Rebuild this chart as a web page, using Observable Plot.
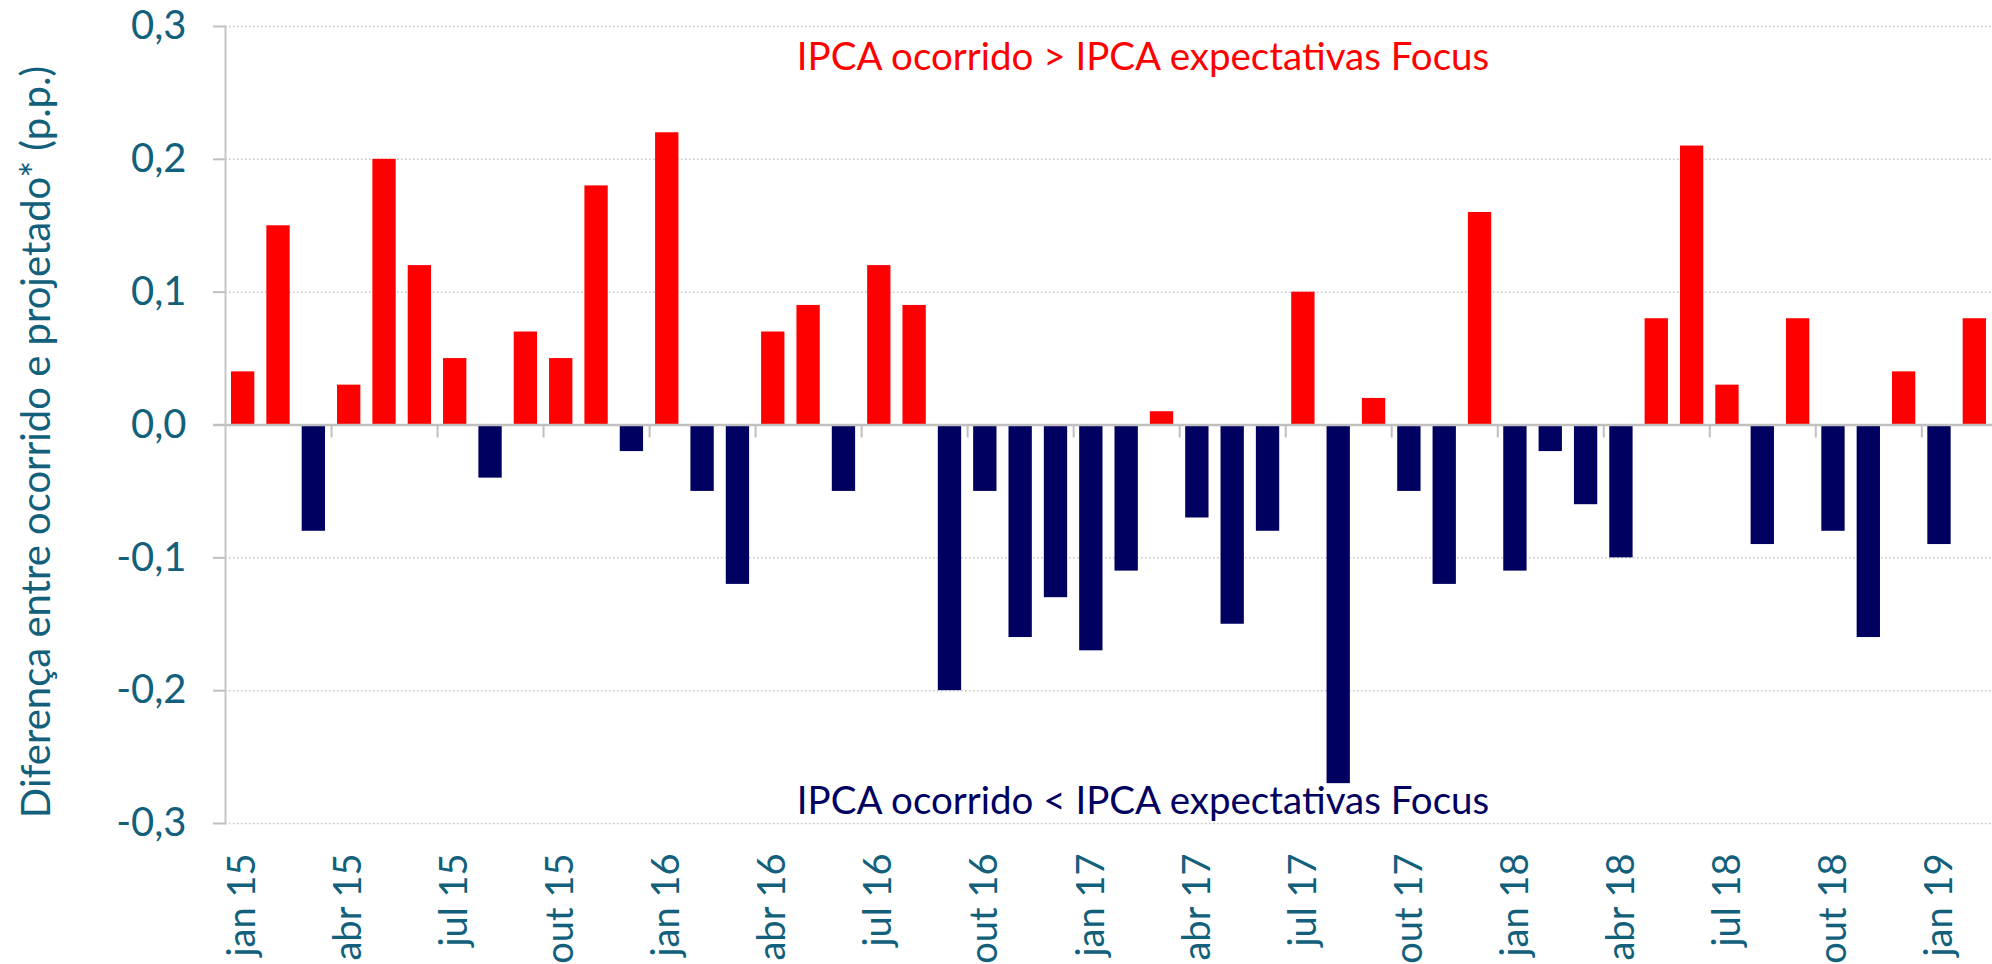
<!DOCTYPE html>
<html><head><meta charset="utf-8">
<script src="https://cdn.jsdelivr.net/npm/d3@7"></script>
<script src="https://cdn.jsdelivr.net/npm/@observablehq/plot@0.6"></script>
<style>
body{margin:0;background:#fff;}
#chart svg{display:block;}
</style>
</head><body><div id="chart"></div>
<script>
const periods = [
  "jan 15","fev 15","mar 15","abr 15","mai 15","jun 15","jul 15","ago 15","set 15","out 15","nov 15","dez 15",
  "jan 16","fev 16","mar 16","abr 16","mai 16","jun 16","jul 16","ago 16","set 16","out 16","nov 16","dez 16",
  "jan 17","fev 17","mar 17","abr 17","mai 17","jun 17","jul 17","ago 17","set 17","out 17","nov 17","dez 17",
  "jan 18","fev 18","mar 18","abr 18","mai 18","jun 18","jul 18","ago 18","set 18","out 18","nov 18","dez 18",
  "jan 19","fev 19"
];
const values = [
  0.04, 0.15, -0.08, 0.03, 0.20, 0.12, 0.05, -0.04, 0.07, 0.05, 0.18, -0.02,
  0.22, -0.05, -0.12, 0.07, 0.09, -0.05, 0.12, 0.09, -0.20, -0.05, -0.16, -0.13,
  -0.17, -0.11, 0.01, -0.07, -0.15, -0.08, 0.10, -0.27, 0.02, -0.05, -0.12, 0.16,
  -0.11, -0.02, -0.06, -0.10, 0.08, 0.21, 0.03, -0.09, 0.08, -0.08, -0.16, 0.04,
  -0.09, 0.08
];
const tickLabels = ["jan 15","abr 15","jul 15","out 15","jan 16","abr 16","jul 16","out 16",
  "jan 17","abr 17","jul 17","out 17","jan 18","abr 18","jul 18","out 18","jan 19"];
const yTicks = [-0.3, -0.2, -0.1, 0, 0.1, 0.2, 0.3];
const upperNote = "IPCA ocorrido > IPCA expectativas Focus";
const lowerNote = "IPCA ocorrido < IPCA expectativas Focus";
const yTitle = "Diferença entre ocorrido e projetado* (p.p.)";

const data = periods.map((p, i) => ({period: p, value: values[i], sign: values[i] >= 0 ? "pos" : "neg"}));

const W = 1992, H = 964, mL = 225, mR = 0, mT = 26, mB = 141;
const step = (W - mL - mR) / periods.length;
const teal = "#12607b";
const fmt = d => (Math.abs(d) < 1e-9 ? 0 : d).toFixed(1).replace(".", ",");

const chart = Plot.plot({
  width: W, height: H,
  marginLeft: mL, marginRight: mR, marginTop: mT, marginBottom: mB,
  style: {fontFamily: "Lato, sans-serif", background: "#fff", fontSize: "40px"},
  x: {domain: periods, paddingInner: 0.34, paddingOuter: 0.17, round: false, axis: null},
  y: {domain: [-0.3, 0.3], axis: null},
  color: {domain: ["pos", "neg"], range: ["#ff0000", "#000060"]},
  marks: [
    Plot.gridY(yTicks.filter(d => d !== 0), {stroke: "#c4c4c4", strokeOpacity: 1, strokeWidth: 1.5, strokeDasharray: "1.5,2.5"}),
    Plot.barY(data, {x: "period", y: "value", fill: "sign"}),
    Plot.ruleY([0], {stroke: "#c0c0c0", strokeWidth: 2.5, insetLeft: -12}),
    Plot.frame({anchor: "left", stroke: "#c6c6c6", strokeWidth: 2}),
    Plot.ruleX(tickLabels.slice(1), {x: d => d, y1: 0, y2: 0, dx: -step / 2, insetBottom: -13, stroke: "#c0c0c0", strokeWidth: 2}),
    Plot.axisY({ticks: yTicks, tickFormat: fmt, label: null, tickSize: 12, tickPadding: 27, stroke: "#c0c0c0", strokeWidth: 2, fill: teal, fontSize: 40}),
    Plot.text(tickLabels, {x: d => d, text: d => d, frameAnchor: "bottom", rotate: -90, textAnchor: "end", lineAnchor: "middle", dy: 30, fill: teal, fontSize: 38}),
    Plot.text([yTitle], {frameAnchor: "left", textAnchor: "middle", lineAnchor: "middle", rotate: -90, dx: -188, dy: 17, fill: teal, fontSize: 40}),
    Plot.text([upperNote], {frameAnchor: "top", textAnchor: "middle", lineAnchor: "middle", dx: 34, dy: 31, fill: "#ff0000", fontSize: 38.5}),
    Plot.text([lowerNote], {frameAnchor: "bottom", textAnchor: "middle", lineAnchor: "middle", dx: 34, dy: -22, fill: "#000060", fontSize: 38.5})
  ]
});
document.getElementById("chart").appendChild(chart);
</script>
</body></html>
